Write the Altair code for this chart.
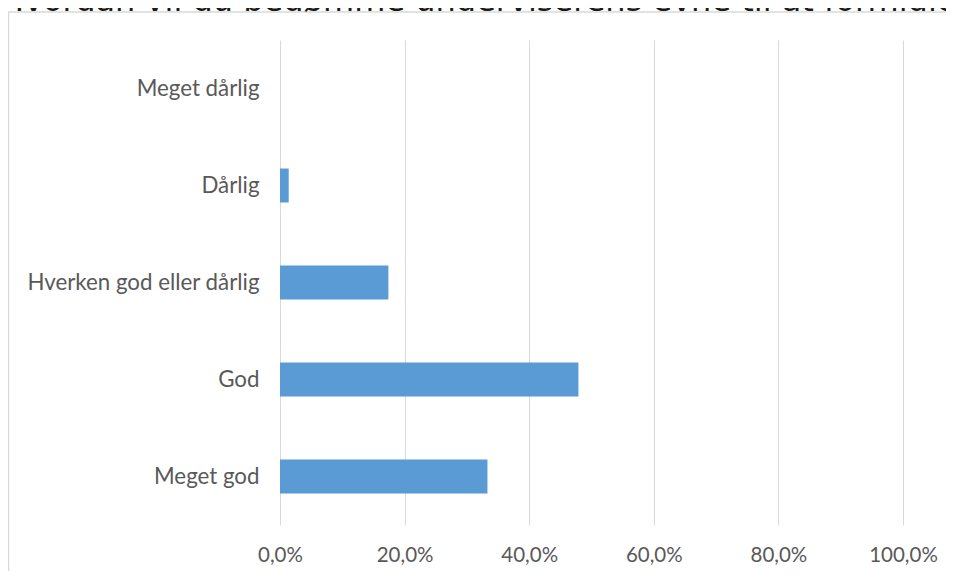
import altair as alt
import pandas as pd

categories = ["Meget dårlig", "Dårlig", "Hverken god eller dårlig", "God", "Meget god"]
values = [0.0, 0.014, 0.174, 0.479, 0.333]
tick_values = [0, 0.2, 0.4, 0.6, 0.8, 1.0]
title_text = "Hvordan vil du bedømme underviserens evne til at formidle stoffet?"

df = pd.DataFrame({"kategori": categories, "andel": values})
one = pd.DataFrame({"a": [0]})

W, H = 623, 485
PL, PT = 272, 32

bars = alt.Chart(df).mark_bar(color="#5b9bd5").encode(
    x=alt.X("andel:Q",
            scale=alt.Scale(domain=[0, 1], nice=False),
            axis=alt.Axis(values=tick_values, title=None, grid=True, gridColor="#d9d9d9",
                          gridWidth=1, domain=False, ticks=False, labelFlush=False,
                          labelExpr="replace(format(datum.value, '.1%'), '.', ',')",
                          labelFont="Lato", labelFontSize=20.5, labelColor="#595959",
                          labelPadding=20)),
    y=alt.Y("kategori:N", sort=categories,
            scale=alt.Scale(paddingInner=0.65, paddingOuter=0.325),
            axis=alt.Axis(title=None, domain=False, ticks=False, labelFont="Lato",
                          labelFontSize=22.3, labelColor="#595959", labelPadding=21,
                          labelLimit=400)),
)

frame_left = alt.Chart(one).mark_rule(color="#d9d9d9", strokeWidth=1.5).encode(
    x=alt.value(-PL + 0.5), y=alt.value(-PT + 4), y2=alt.value(700)
)
frame_top = alt.Chart(one).mark_rule(color="#d9d9d9", strokeWidth=1.5).encode(
    x=alt.value(-PL), x2=alt.value(1000), y=alt.value(-PT + 4)
)
title = alt.Chart(one).mark_text(
    text=title_text, align="left", baseline="alphabetic",
    font="DejaVu Sans", fontSize=32, color="#1a1a1a"
).encode(x=alt.value(-PL - 8), y=alt.value(-PT + 3))

chart = alt.layer(bars, frame_left, frame_top, title).properties(
    width=W, height=H,
    autosize=alt.AutoSizeParams(type="none"),
    padding={"left": PL, "top": PT, "right": 43, "bottom": 46},
).configure_view(stroke=None)

chart.save("out.html", embed_options={"renderer": "svg", "actions": False})
